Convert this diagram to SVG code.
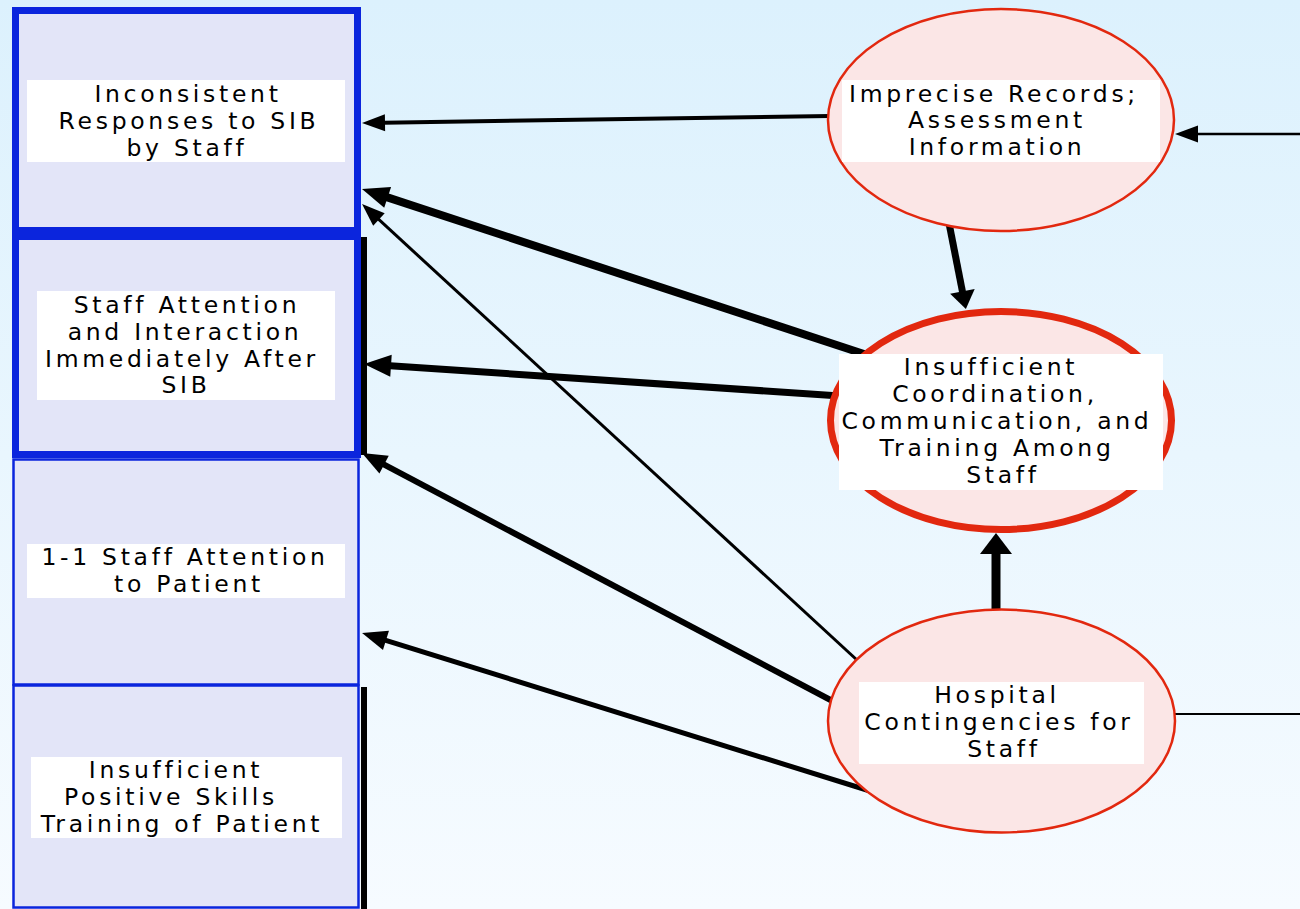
<svg xmlns="http://www.w3.org/2000/svg" width="1300" height="909" viewBox="0 0 1300 909">
<style>
.box{fill:#E3E5F8;stroke:#0B25DD}
.thick{stroke-width:7}
.thin{stroke-width:2.5}
.ell{fill:#FBE6E6;stroke:#E2280F}
.lbl{fill:#FFFFFF}
.t{font-family:"DejaVu Sans","Verdana",sans-serif;font-size:23.5px;letter-spacing:3.7px;fill:#000;text-anchor:middle}
.c{stroke:#000;fill:none}
.shadow{fill:#000}
</style>
<defs>
<linearGradient id="bg" x1="0" y1="0" x2="0" y2="1">
<stop offset="0" stop-color="#DCF1FD"/>
<stop offset="1" stop-color="#F6FBFF"/>
</linearGradient>
<marker id="ahS" markerUnits="userSpaceOnUse" orient="auto" refX="0" refY="0" markerWidth="30" markerHeight="30" overflow="visible"><path d="M-1,-8.5 L22,0 L-1,8.5 Z" fill="#000"/></marker>
<marker id="ahM" markerUnits="userSpaceOnUse" orient="auto" refX="0" refY="0" markerWidth="30" markerHeight="30" overflow="visible"><path d="M-1,-10 L24,0 L-1,10 Z" fill="#000"/></marker>
<marker id="ahL" markerUnits="userSpaceOnUse" orient="auto" refX="0" refY="0" markerWidth="30" markerHeight="30" overflow="visible"><path d="M-1,-11 L26,0 L-1,11 Z" fill="#000"/></marker>
<marker id="ahV" markerUnits="userSpaceOnUse" orient="auto" refX="0" refY="0" markerWidth="30" markerHeight="30" overflow="visible"><path d="M-1,-12.5 L17,0 L-1,12.5 Z" fill="#000"/></marker>
<marker id="ahX" markerUnits="userSpaceOnUse" orient="auto" refX="0" refY="0" markerWidth="40" markerHeight="40" overflow="visible"><path d="M-1,-16 L20,0 L-1,16 Z" fill="#000"/></marker>
</defs>
<rect x="0" y="0" width="1300" height="909" fill="url(#bg)"/>

<g id="connectors">
<line class="c" x1="830" y1="116" x2="384" y2="122.7" stroke-width="4" marker-end="url(#ahS)"/>
<line class="c" x1="870" y1="356" x2="386.7" y2="197.1" stroke-width="8" marker-end="url(#ahL)"/>
<line class="c" x1="870" y1="672" x2="378.2" y2="218.9" stroke-width="3" marker-end="url(#ahS)"/>
<line class="c" x1="840" y1="396" x2="390" y2="365.7" stroke-width="7" marker-end="url(#ahL)"/>
<line class="c" x1="840" y1="705" x2="383.2" y2="464.2" stroke-width="6" marker-end="url(#ahM)"/>
<line class="c" x1="870" y1="791" x2="385" y2="640.1" stroke-width="5" marker-end="url(#ahM)"/>
<line class="c" x1="948" y1="218" x2="962.6" y2="292.3" stroke-width="7" marker-end="url(#ahV)"/>
<line class="c" x1="996" y1="620" x2="996" y2="553" stroke-width="9" marker-end="url(#ahX)"/>
<line class="c" x1="1300" y1="134" x2="1197" y2="134" stroke-width="2.5" marker-end="url(#ahS)"/>
<line class="c" x1="1170" y1="714" x2="1300" y2="714" stroke-width="2"/>
</g>

<g id="node-inconsistent">
<rect class="box thick" x="15.5" y="10.5" width="342" height="220"/>
<rect class="lbl" x="27" y="80" width="318" height="82"/>
<text class="t" x="188" y="102">Inconsistent</text>
<text class="t" x="189" y="129">Responses to SIB</text>
<text class="t" x="187" y="156">by Staff</text>
</g>

<g id="node-staff-attention">
<rect class="shadow" x="361" y="237" width="6" height="218"/>
<rect class="box thick" x="15.5" y="236.5" width="342" height="218"/>
<rect class="lbl" x="37" y="291" width="298" height="109"/>
<text class="t" x="187" y="313">Staff Attention</text>
<text class="t" x="185" y="340">and Interaction</text>
<text class="t" x="182" y="367">Immediately After</text>
<text class="t" x="186" y="393">SIB</text>
</g>

<g id="node-one-one">
<rect class="box thin" x="13.5" y="459.5" width="345" height="225"/>
<rect class="lbl" x="27" y="544" width="318" height="54"/>
<text class="t" x="185" y="565">1-1 Staff Attention</text>
<text class="t" x="189" y="592">to Patient</text>
</g>

<g id="node-skills">
<rect class="shadow" x="361" y="687" width="6" height="222"/>
<rect class="box thin" x="13.5" y="685.5" width="345" height="222"/>
<rect class="lbl" x="31" y="757" width="311" height="81"/>
<text class="t" x="176" y="778">Insufficient</text>
<text class="t" x="171" y="805">Positive Skills</text>
<text class="t" x="182" y="832">Training of Patient</text>
</g>

<g id="node-records">
<ellipse class="ell" cx="1001" cy="120" rx="173" ry="111" stroke-width="2.5"/>
<rect class="lbl" x="842" y="80" width="318" height="82"/>
<text class="t" x="994" y="102">Imprecise Records;</text>
<text class="t" x="997" y="128">Assessment</text>
<text class="t" x="997" y="155">Information</text>
</g>

<g id="node-coordination">
<ellipse class="ell" cx="1001" cy="420.5" rx="170.5" ry="109" stroke-width="7"/>
<rect class="lbl" x="839" y="354" width="324" height="136"/>
<text class="t" x="991" y="375">Insufficient</text>
<text class="t" x="995" y="402">Coordination,</text>
<text class="t" x="997" y="429">Communication, and</text>
<text class="t" x="997" y="456">Training Among</text>
<text class="t" x="1003" y="483">Staff</text>
</g>

<g id="node-hospital">
<ellipse class="ell" cx="1001.5" cy="721" rx="173.5" ry="111.5" stroke-width="2.5"/>
<rect class="lbl" x="859" y="682" width="285" height="82"/>
<text class="t" x="997" y="703">Hospital</text>
<text class="t" x="999" y="730">Contingencies for</text>
<text class="t" x="1004" y="757">Staff</text>
</g>
</svg>
